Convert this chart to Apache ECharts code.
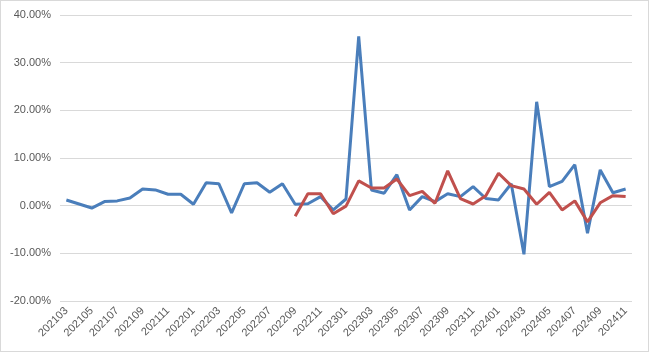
<!DOCTYPE html>
<html>
<head>
<meta charset="utf-8">
<script src="https://cdn.jsdelivr.net/npm/echarts@6/dist/echarts.min.js"></script>
<style>
html, body { margin: 0; padding: 0; background: #fff; }
#main { width: 647px; height: 350px; border: 1px solid #d9d9d9; }
</style>
</head>
<body>
<div id="main"></div>
<script>
// months 202103 .. 202411
var months = [];
for (var y = 2021; y <= 2024; y++) {
    for (var m = 1; m <= 12; m++) {
        var ym = y * 100 + m;
        if (ym >= 202103 && ym <= 202411) months.push(String(ym));
    }
}

// values in percent
var blueSeries = [1.2, 0.35, -0.5, 0.85, 1.0, 1.6, 3.5, 3.3, 2.4, 2.4,
    0.3, 4.8, 4.6, -1.5, 4.6, 4.8, 2.8, 4.6, 0.3, 0.4,
    1.9, -0.9, 1.4, 35.5, 3.3, 2.6, 6.5, -0.9, 1.9, 0.85,
    2.5, 1.9, 4.0, 1.5, 1.2, 4.6, -10.2, 21.8, 4.0, 5.1,
    8.6, -5.8, 7.5, 2.7, 3.5];

var redSeries = [null, null, null, null, null, null, null, null, null, null,
    null, null, null, null, null, null, null, null, -2.2, 2.5,
    2.5, -1.7, -0.1, 5.2, 3.7, 3.7, 5.6, 2.1, 3.0, 0.5,
    7.3, 1.5, 0.35, 2.1, 6.8, 4.2, 3.5, 0.3, 2.8, -0.9,
    1.0, -3.4, 0.6, 2.1, 1.9];

var yTicks = { min: -20, max: 40, step: 10 };

var myChart = echarts.init(document.getElementById('main'));
var option = {
    animation: false,
    grid: {
        left: 59,
        right: 16,
        top: 14,
        bottom: 50
    },
    xAxis: {
        type: 'category',
        data: months,
        boundaryGap: true,
        axisLine: { show: false },
        axisTick: { show: false },
        axisLabel: {
            interval: 1,
            rotate: 45,
            margin: 8,
            color: '#595959',
            fontFamily: 'Liberation Sans',
            fontSize: 11
        }
    },
    yAxis: {
        type: 'value',
        min: yTicks.min,
        max: yTicks.max,
        interval: yTicks.step,
        axisLine: { show: false },
        axisTick: { show: false },
        axisLabel: {
            margin: 9,
            color: '#595959',
            fontFamily: 'Liberation Sans',
            fontSize: 11,
            formatter: function (v) { return v.toFixed(2) + '%'; }
        },
        splitLine: {
            show: true,
            lineStyle: { color: '#d9d9d9', width: 1 }
        }
    },
    series: [
        {
            name: 'blue',
            type: 'line',
            data: blueSeries,
            symbol: 'none',
            lineStyle: { color: '#4a7ebb', width: 3 },
            z: 2
        },
        {
            name: 'red',
            type: 'line',
            data: redSeries,
            symbol: 'none',
            lineStyle: { color: '#c0504d', width: 3 },
            z: 3
        }
    ]
};
myChart.setOption(option);
</script>
</body>
</html>
